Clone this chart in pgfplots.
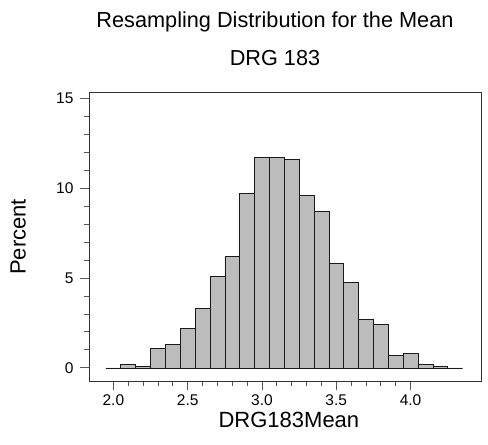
\documentclass[border=0pt]{standalone}
\usepackage{pgfplots}
\pgfplotsset{compat=1.18}
\usepackage{fontspec}
\setmainfont{Liberation Sans}
\begin{document}
\begin{tikzpicture}
\useasboundingbox (-89pt,-63.5pt) rectangle (399pt,381.3pt);
\begin{axis}[
  at={(0pt,0pt)}, anchor=south west,
  scale only axis, width=392pt, height=289pt,
  xmin=1.836, xmax=4.474, ymin=-0.75, ymax=15.32,
  axis line style={black!80, line width=0.8pt},
  xtick={2,2.5,3,3.5,4}, minor x tick num=4,
  ytick={0,5,10,15}, minor y tick num=4,
  xtick pos=left, ytick pos=left,
  tick align=outside,
  major tick length=9pt, minor tick length=5pt,
  tick style={black!65, line width=0.7pt},
  /pgf/number format/assume math mode=true,
  xticklabel style={font=\fontsize{15.5}{18}\selectfont, /pgf/number format/.cd, fixed, fixed zerofill, precision=1},
  yticklabel style={font=\fontsize{15.5}{18}\selectfont},
  xlabel={DRG183Mean}, ylabel={Percent},
  label style={font=\fontsize{22}{26}\selectfont},
  xlabel style={at={(axis description cs:0.51,0)}, anchor=center, yshift=-38.5pt},
  ylabel style={at={(axis description cs:-0.181,0.5)}, anchor=center, rotate=0},
  xticklabel shift=1pt, yticklabel shift=3pt,
]
\addplot[ybar, bar width=0.1, bar shift=0pt, draw=black!90, line width=0.6pt, fill={rgb,255:red,188;green,188;blue,188}]
coordinates {
(2.0,0) (2.1,0.2) (2.2,0.1) (2.3,1.1) (2.4,1.3) (2.5,2.2) (2.6,3.3) (2.7,5.1)
(2.8,6.2) (2.9,9.7) (3.0,11.7) (3.1,11.7) (3.2,11.6) (3.3,9.6) (3.4,8.7)
(3.5,5.8) (3.6,4.75) (3.7,2.7) (3.8,2.4) (3.9,0.7) (4.0,0.8) (4.1,0.2)
(4.2,0.1) (4.3,0)
};
\end{axis}
\node[font=\fontsize{21.7}{25}\selectfont] at (186pt,359pt) {Resampling Distribution for the Mean};
\node[font=\fontsize{21.7}{25}\selectfont] at (186pt,323pt) {DRG 183};
\end{tikzpicture}
\end{document}
